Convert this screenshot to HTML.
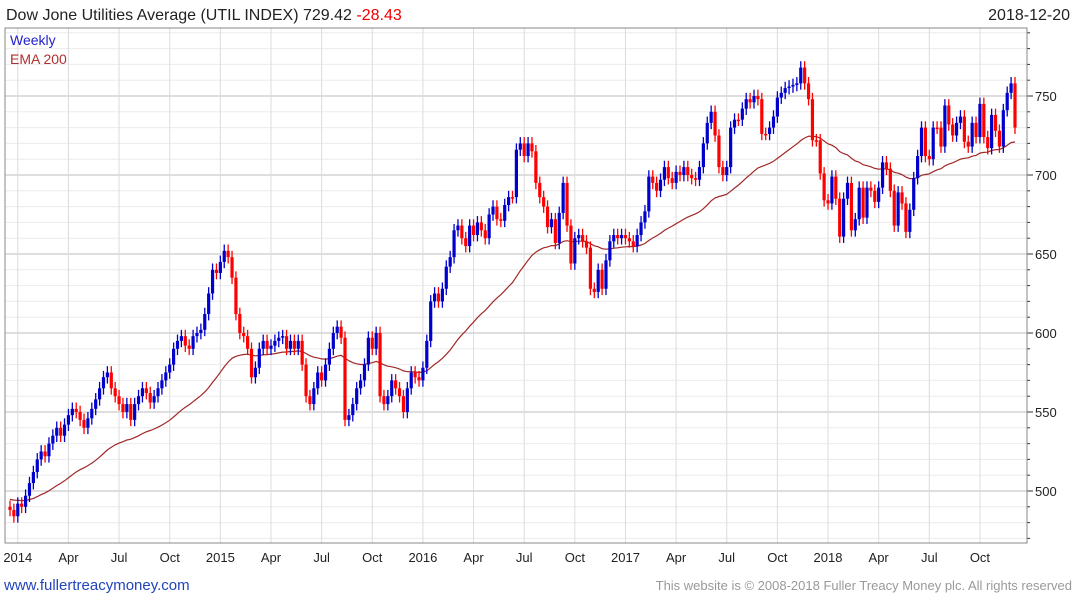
<!DOCTYPE html>
<html><head><meta charset="utf-8"><style>
body{margin:0;background:#fff;font-family:"Liberation Sans",sans-serif;}
svg{display:block}
</style></head><body>
<svg id="c" width="1075" height="600" xmlns="http://www.w3.org/2000/svg">
<text x="6" y="20" font-size="16" fill="#222">Dow Jone Utilities Average (UTIL INDEX) 729.42 <tspan fill="#e00">-28.43</tspan></text>
<text x="1070" y="20" font-size="16" fill="#222" text-anchor="end">2018-12-20</text>
<g id="grid"></g>
<g id="ema"></g>
<g id="candles"></g>
<g id="axes"></g>
<text x="10" y="45" font-size="14" fill="#2222cc">Weekly</text>
<text x="10" y="64" font-size="14" fill="#b03030">EMA 200</text>
<text x="4" y="590" font-size="15" fill="#2244bb">www.fullertreacymoney.com</text>
<text x="1072" y="590" font-size="13" fill="#999" text-anchor="end">This website is © 2008-2018 Fuller Treacy Money plc. All rights reserved</text>
</svg>
<script>
const closes=[488,484,492,490,497,505,512,520,525,522,530,535,540,
535,542,548,552,550,545,540,546,552,558,565,572,575,
565,560,555,550,555,545,555,560,565,562,556,560,565,
570,575,580,590,595,598,592,590,598,600,602,612,625,
640,638,645,652,648,635,612,600,598,590,572,578,590,
595,590,592,595,597,598,590,595,590,595,580,560,555,
565,575,570,580,590,600,604,597,545,548,555,565,570,
580,597,590,600,560,555,560,570,565,560,550,565,575,
572,570,578,595,620,625,620,628,642,648,665,668,660,
655,668,662,670,665,660,675,680,672,671,681,686,686,
716,720,712,720,715,695,686,680,667,672,657,676,695,
668,644,660,662,658,654,628,626,640,628,646,658,662,
660,662,660,658,655,662,670,677,699,695,690,697,705,
698,695,702,700,705,700,698,697,705,720,733,740,725,
705,700,705,730,735,735,742,748,746,750,748,726,726,
730,737,749,752,755,756,757,758,768,758,748,722,722,
701,684,682,699,685,661,685,695,665,672,692,673,692,
690,683,692,708,704,690,668,689,682,664,678,698,712,
730,712,710,730,730,718,744,732,725,733,737,721,718,
733,724,745,724,717,738,728,718,741,752,758,730];
const firstOpen=490;
const emaSeed=495;
const yTicks=[500,550,600,650,700,750];
const xLabels=["2014","Apr","Jul","Oct","2015","Apr","Jul","Oct","2016","Apr","Jul","Oct","2017","Apr","Jul","Oct","2018","Apr","Jul","Oct"];
const xLabelWeeks=[2,15,28,41,54,67,80,93,106,119,132,145,158,171,184,197,210,223,236,249];

const L=5,R=1027,T=28,B=543;
const NS="http://www.w3.org/2000/svg";
function y(v){return 96+(750-v)*1.58;}
function x(i){return 10+i*(1015-10)/(closes.length-1);}
function el(tag,attrs,parent){const e=document.createElementNS(NS,tag);for(const k in attrs)e.setAttribute(k,attrs[k]);parent.appendChild(e);return e;}
const grid=document.getElementById('grid'),axes=document.getElementById('axes'),cg=document.getElementById('candles'),eg=document.getElementById('ema');
for(let v=470;v<=790;v+=10){const yy=y(v);if(yy<T||yy>B)continue;
 const major=v%50===0;
 const ln=el('line',{x1:L,x2:R,y1:yy,y2:yy,stroke:major?'#bdbdbd':'#ececec','stroke-width':1},grid);
 
 
 const tk=el('line',{x1:R,x2:R+(major?6:3),y1:yy,y2:yy,stroke:'#333'},axes);
 
 
}
xLabelWeeks.forEach((w,k)=>{const xx=x(w);
 const ln=el('line',{x1:xx,x2:xx,y1:T,y2:B,stroke:'#dcdcdc'},grid);
 
 
 const t=el('text',{x:xx,y:562,'font-size':13,fill:'#222','text-anchor':'middle'},axes);
 t.textContent=xLabels[k];
 
 
});
yTicks.forEach(v=>{const t=el('text',{x:1035,y:y(v)+5,'font-size':13,fill:'#222'},axes);
 t.textContent=v;
 
 
});
const fr=el('rect',{x:L,y:T,width:R-L,height:B-T,fill:'none',stroke:'#888'},axes);


let e=emaSeed,a=2/45,pts=[];
closes.forEach((c,i)=>{e=e+a*(c-e);pts.push(x(i).toFixed(1)+','+y(e).toFixed(1));});
const pl=el('polyline',{points:pts.join(' '),fill:'none',stroke:'#a02828','stroke-width':1.2},eg);


closes.forEach((c,i)=>{const o=i===0?firstOpen:closes[i-1];
 const up=c>o,col=up?'#0000cc':'#ff0000',xx=x(i);
 const hi=Math.max(o,c)+4,lo=Math.min(o,c)-4;
 const w=el('line',{x1:xx,x2:xx,y1:y(hi),y2:y(lo),stroke:col,'stroke-width':1.3},cg);
 
 
 const top=y(Math.max(o,c)),h=Math.max(1.5,Math.abs(y(o)-y(c)));
 const r=el('rect',{x:xx-1.6,y:top,width:3.2,height:h,fill:col},cg);
 
 
});
</script>
</body></html>
